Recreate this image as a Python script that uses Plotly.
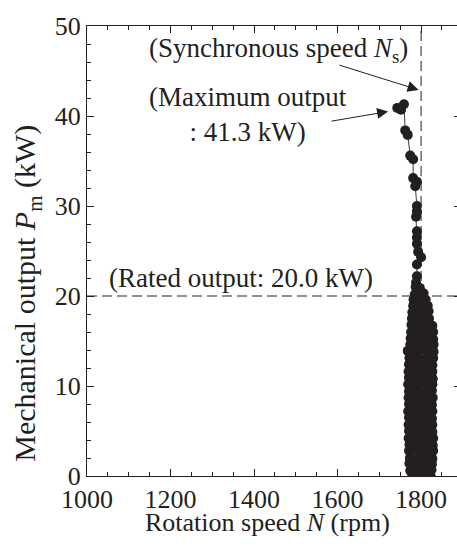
import plotly.graph_objects as go

# Excursion above rated output (rotation speed in rpm, mechanical output in kW)
peak_speed_rpm = [1743, 1752, 1759, 1762, 1768, 1774, 1781, 1781, 1790, 1786,
                  1790, 1790, 1788, 1790, 1790, 1790, 1793, 1800, 1790, 1790, 1788]
peak_output_kw = [40.9, 40.7, 41.3, 38.4, 37.9, 35.6, 35.2, 33.1, 32.7, 32.2,
                  30.0, 29.4, 28.8, 27.2, 26.5, 25.8, 24.9, 24.3, 23.5, 22.2, 21.5]

# Dense band of operating points below rated output
band_speed_rpm = [
    1787, 1797,
    1806, 1796, 1785,
    1782, 1790, 1801, 1811,
    1816, 1806, 1794, 1781,
    1779, 1786, 1799, 1812, 1818,
    1819, 1805, 1791, 1778,
    1777, 1790, 1804, 1817, 1827,
    1829, 1823, 1810, 1796, 1782, 1776,
    1775, 1788, 1802, 1816, 1829,
    1830, 1823, 1809, 1794, 1780, 1774,
    1768, 1786, 1801, 1816, 1830,
    1829, 1823, 1809, 1794, 1779, 1772,
    1771, 1785, 1800, 1815, 1827,
    1827, 1822, 1808, 1793, 1778, 1770,
    1771, 1786, 1801, 1816, 1828,
    1827, 1823, 1809, 1794, 1779, 1769,
    1771, 1786, 1801, 1815, 1826,
    1828, 1822, 1808, 1793, 1778, 1770,
    1771, 1785, 1800, 1814, 1826,
    1827, 1821, 1807, 1792, 1777, 1769,
    1771, 1785, 1800, 1815, 1826,
    1827, 1822, 1808, 1793, 1778, 1770,
    1771, 1786, 1801, 1815, 1827,
    1829, 1823, 1809, 1794, 1779, 1770,
    1772, 1787, 1802, 1816, 1828,
    1829, 1824, 1810, 1795, 1780, 1771,
    1773, 1788, 1803, 1817, 1827,
    1826, 1811, 1796, 1781, 1772,
    1774, 1789, 1804, 1818, 1825,
    1823, 1815, 1806, 1797, 1788, 1779,
]
band_output_kw = [
    21.0, 20.9,
    20.3, 20.4, 20.2,
    19.6, 19.7, 19.5, 19.6,
    18.9, 18.8, 19.0, 18.9,
    18.2, 18.3, 18.1, 18.2, 18.3,
    17.5, 17.6, 17.4, 17.5,
    16.8, 16.7, 16.9, 16.8, 16.7,
    16.0, 16.1, 15.9, 16.0, 16.1, 16.0,
    15.3, 15.2, 15.4, 15.3, 15.2,
    14.6, 14.7, 14.5, 14.6, 14.7, 14.6,
    13.9, 13.8, 14.0, 13.9, 13.8,
    13.1, 13.2, 13.0, 13.1, 13.2, 13.1,
    12.4, 12.3, 12.5, 12.4, 12.3,
    11.6, 11.7, 11.5, 11.6, 11.7, 11.6,
    10.9, 10.8, 11.0, 10.9, 10.8,
    10.2, 10.1, 10.3, 10.2, 10.1, 10.2,
    9.4, 9.5, 9.3, 9.4, 9.5,
    8.7, 8.6, 8.8, 8.7, 8.6, 8.7,
    8.0, 7.9, 8.1, 8.0, 7.9,
    7.2, 7.3, 7.1, 7.2, 7.3, 7.2,
    6.5, 6.4, 6.6, 6.5, 6.4,
    5.7, 5.8, 5.6, 5.7, 5.8, 5.7,
    5.0, 4.9, 5.1, 5.0, 4.9,
    4.2, 4.3, 4.1, 4.2, 4.3, 4.2,
    3.5, 3.4, 3.6, 3.5, 3.4,
    2.8, 2.9, 2.7, 2.8, 2.9, 2.8,
    2.0, 1.9, 2.1, 2.0, 1.9,
    1.3, 1.4, 1.2, 1.3, 1.4,
    0.6, 0.7, 0.5, 0.6, 0.7,
    0.0, 0.0, 0.0, 0.0, 0.0, 0.0,
]

SYNC_SPEED_RPM = 1800
RATED_OUTPUT_KW = 20.0
X_RANGE = [1000, 1886]
Y_RANGE = [0, 50]

speed = peak_speed_rpm + band_speed_rpm
output = peak_output_kw + band_output_kw
max_output = max(output)

INK = "#231f20"
FONT = "Liberation Serif"

fig = go.Figure()

fig.add_trace(go.Scatter(
    x=speed, y=output,
    mode="lines+markers",
    line=dict(color="#3a3a3a", width=1),
    marker=dict(size=10, color=INK, line=dict(width=0)),
    showlegend=False,
    hoverinfo="skip",
))

# Invisible trace so the right-hand tick axis is rendered
fig.add_trace(go.Scatter(x=[None], y=[None], yaxis="y2", showlegend=False))

# Rated output and synchronous speed reference lines
fig.add_shape(type="line", xref="paper", yref="y", x0=0, x1=1,
              y0=RATED_OUTPUT_KW, y1=RATED_OUTPUT_KW,
              line=dict(color=INK, width=1, dash="10px,5px"), layer="below")
fig.add_shape(type="line", xref="x", yref="paper", x0=SYNC_SPEED_RPM, x1=SYNC_SPEED_RPM,
              y0=0, y1=1,
              line=dict(color=INK, width=1, dash="10px,5px"), layer="below")

tick_font = dict(family=FONT, size=26, color=INK)
note_font = dict(family=FONT, size=27, color=INK)
xtitle_font = dict(family=FONT, size=26, color=INK)
ytitle_font = dict(family=FONT, size=30, color=INK)

arrow_style = dict(text="", showarrow=True, arrowhead=2, arrowsize=2.2,
                   arrowwidth=1, arrowcolor=INK,
                   xref="x", yref="y", axref="x", ayref="y")

fig.add_annotation(x=1458, y=47.3, xref="x", yref="y",
                   text="(Synchronous speed <i>N</i><sub>s</sub>)",
                   showarrow=False, font=note_font, xanchor="center", yanchor="middle")
fig.add_annotation(x=SYNC_SPEED_RPM - 6, y=42.9, ax=1601, ay=45.7, **arrow_style)

fig.add_annotation(x=1386, y=40.2, xref="x", yref="y",
                   text=f"(Maximum output<br>: {max_output:.1f} kW)",
                   showarrow=False, font=note_font, align="center",
                   xanchor="center", yanchor="middle")
fig.add_annotation(x=1721, y=40.5, ax=1582, ay=39.4, **arrow_style)

fig.add_annotation(x=1369, y=22.05, xref="x", yref="y",
                   text=f"(Rated output: {RATED_OUTPUT_KW:.1f} kW)",
                   showarrow=False, font=note_font, xanchor="center", yanchor="middle")

# Axis titles
fig.add_annotation(x=0, y=0.405, xref="paper", yref="paper", xshift=-60,
                   text="Mechanical output <i>P</i><sub>m</sub> (kW)",
                   textangle=-90, showarrow=False, font=ytitle_font,
                   xanchor="center", yanchor="middle")
fig.add_annotation(x=0.489, y=-0.104, xref="paper", yref="paper",
                   text="Rotation speed <i>N</i> (rpm)",
                   showarrow=False, font=xtitle_font, xanchor="center", yanchor="middle")

axis_common = dict(
    showgrid=False, zeroline=False,
    ticks="inside", ticklen=7, tickwidth=1, tickcolor=INK,
    linecolor=INK, linewidth=1,
    tickfont=tick_font,
)

fig.update_layout(
    width=457, height=547,
    margin=dict(l=87, r=0, t=26, b=71),
    paper_bgcolor="white", plot_bgcolor="white",
    xaxis=dict(range=X_RANGE, tick0=1000, dtick=200, showline=True, mirror="ticks",
               minor=dict(dtick=50, ticks="inside", ticklen=4, tickcolor=INK),
               **axis_common),
    yaxis=dict(range=Y_RANGE, tick0=0, dtick=10, showline=True, mirror=False,
               minor=dict(dtick=2, ticks="inside", ticklen=4, tickcolor=INK),
               **axis_common),
    yaxis2=dict(range=Y_RANGE, tick0=0, dtick=10, overlaying="y", side="right",
                anchor="x", showline=False, showgrid=False, zeroline=False,
                showticklabels=False, ticks="inside", ticklen=3, tickwidth=1,
                tickcolor=INK),
    font=tick_font,
)

fig.write_html("out.html")
